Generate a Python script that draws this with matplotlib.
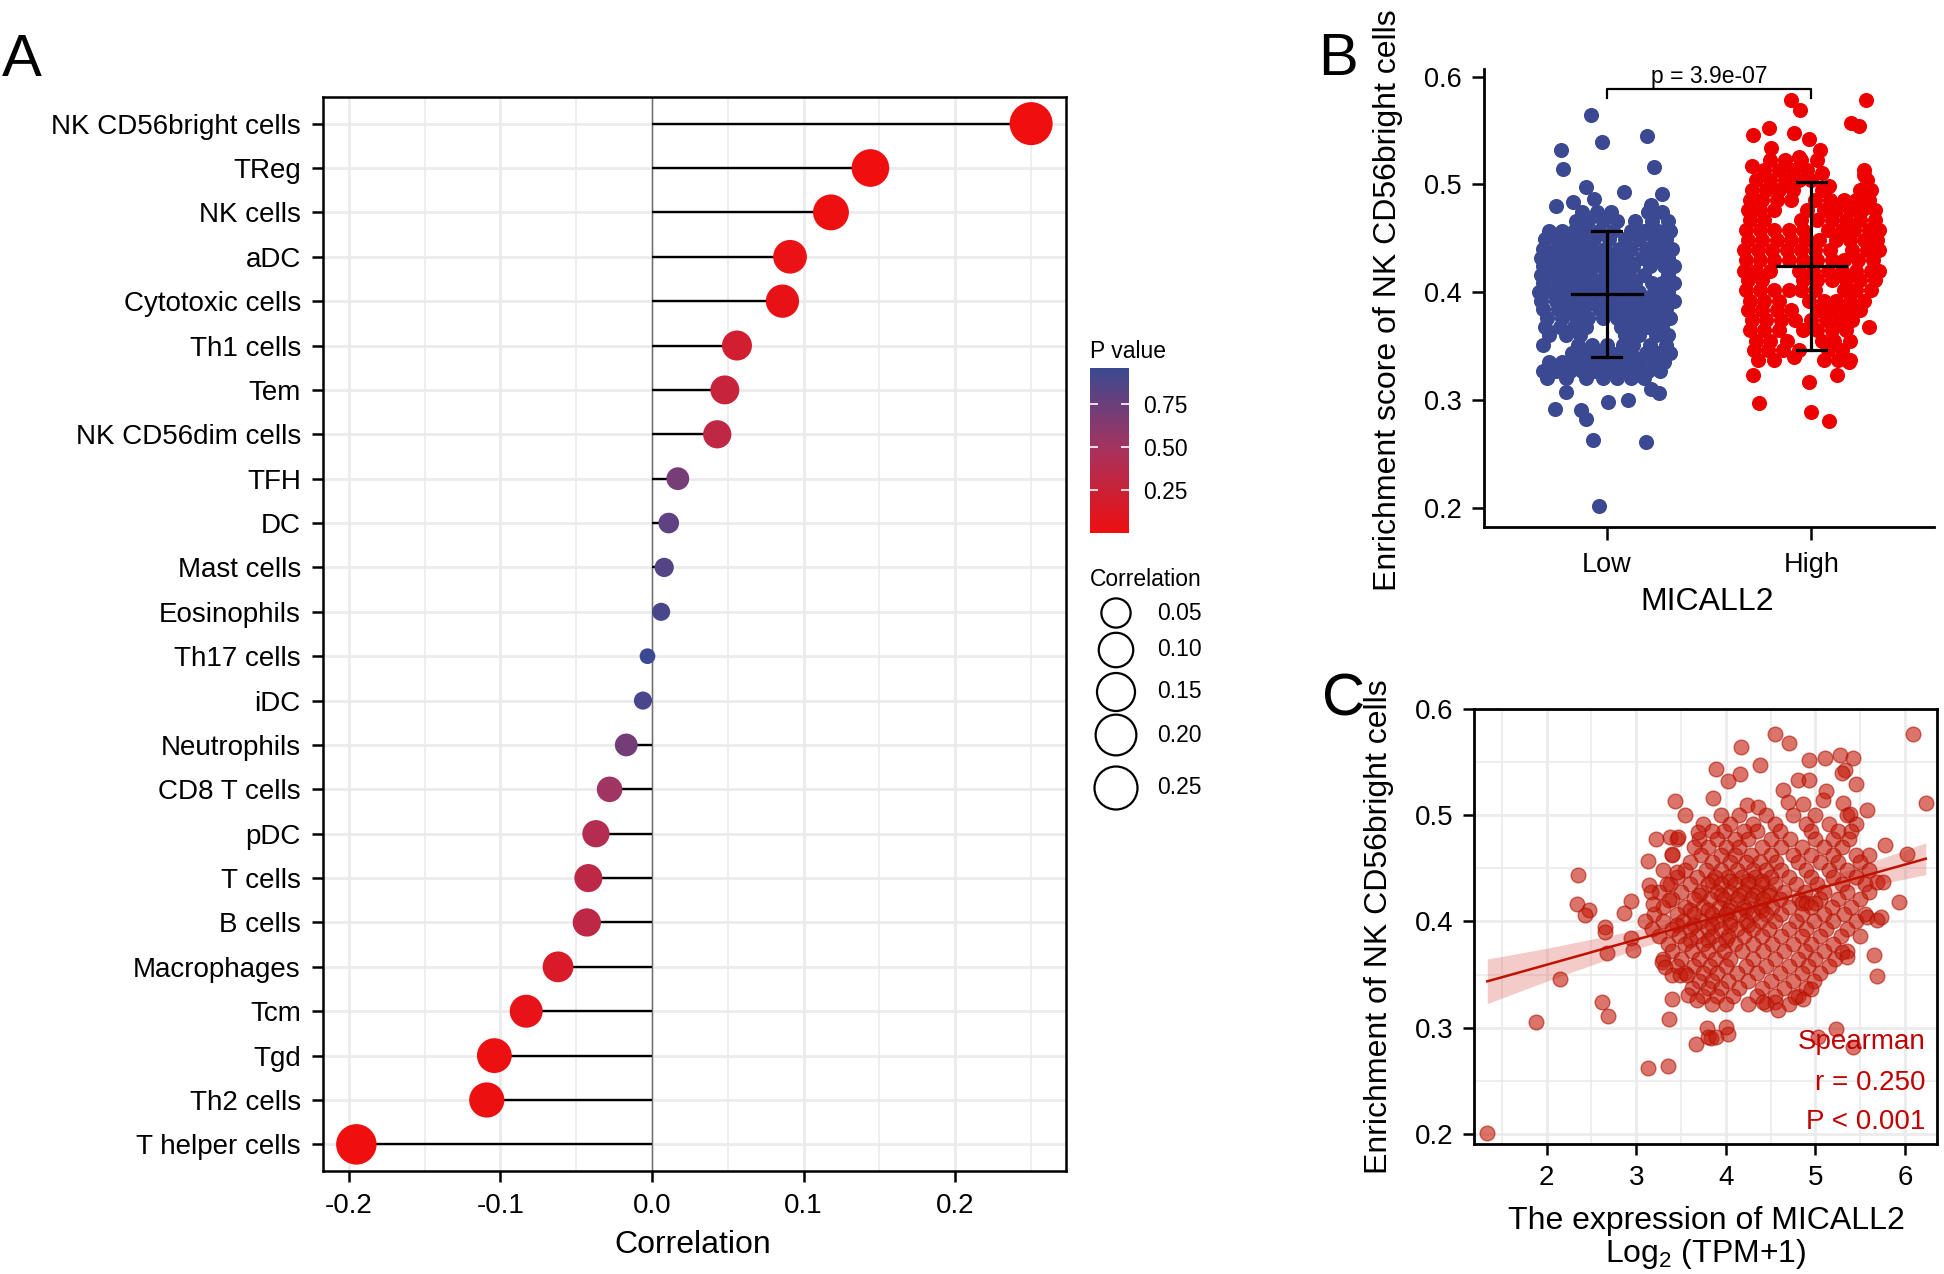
import numpy as np
import matplotlib
matplotlib.use('Agg')
import matplotlib.pyplot as plt
from matplotlib.colors import LinearSegmentedColormap, Normalize

plt.rcParams['font.family'] = ['Liberation Sans', 'DejaVu Sans']
plt.rcParams['mathtext.fontset'] = 'custom'
plt.rcParams['mathtext.rm'] = 'Liberation Sans'

W, H = 1944, 1274

# ---------------- panel A: immune cell correlations ----------------
cells = ['NK CD56bright cells', 'TReg', 'NK cells', 'aDC', 'Cytotoxic cells',
         'Th1 cells', 'Tem', 'NK CD56dim cells', 'TFH', 'DC', 'Mast cells',
         'Eosinophils', 'Th17 cells', 'iDC', 'Neutrophils', 'CD8 T cells', 'pDC',
         'T cells', 'B cells', 'Macrophages', 'Tcm', 'Tgd', 'Th2 cells',
         'T helper cells']
cor = [0.250, 0.144, 0.118, 0.091, 0.086, 0.056, 0.048, 0.043, 0.017, 0.011,
       0.008, 0.006, -0.003, -0.006, -0.017, -0.028, -0.037, -0.042, -0.043,
       -0.062, -0.083, -0.104, -0.109, -0.195]
pval = [0.000, 0.001, 0.006, 0.036, 0.048, 0.20, 0.27, 0.32, 0.70, 0.80,
        0.85, 0.89, 0.96, 0.89, 0.71, 0.52, 0.40, 0.34, 0.33, 0.15, 0.056,
        0.016, 0.012, 0.000]
size_levels = [0.05, 0.10, 0.15, 0.20, 0.25]
p_ticks = [0.25, 0.50, 0.75]

# ---------------- panel B: Low vs High MICALL2 ----------------
# enrichment score -> jitter offsets of the dots in that row
low_rows = {
    0.474: [-0.12, -0.05, 0.02, 0.20, 0.27],
    0.466: [-0.15, -0.09, -0.02, 0.05, 0.14, 0.22, 0.30],
    0.457: [-0.28, -0.22, -0.16, -0.10, -0.04, 0.03, 0.12, 0.18, 0.25, 0.31],
    0.449: [-0.30, -0.24, -0.18, -0.12, -0.06, 0.01, 0.09, 0.16, 0.23, 0.29],
    0.440: [-0.31, -0.25, -0.19, -0.13, -0.07, -0.01, 0.06, 0.12, 0.19, 0.26, 0.32],
    0.432: [-0.32, -0.26, -0.20, -0.14, -0.08, -0.02, 0.04, 0.10, 0.17, 0.24, 0.30],
    0.424: [-0.31, -0.25, -0.19, -0.12, -0.06, 0.00, 0.07, 0.13, 0.21, 0.28, 0.33],
    0.416: [-0.32, -0.26, -0.20, -0.14, -0.08, -0.01, 0.05, 0.11, 0.18, 0.30],
    0.408: [-0.31, -0.24, -0.18, -0.12, -0.05, 0.02, 0.08, 0.14, 0.22, 0.27, 0.33],
    0.400: [-0.33, -0.27, -0.21, -0.15, -0.09, -0.03, 0.03, 0.10, 0.16, 0.23, 0.30],
    0.392: [-0.32, -0.25, -0.19, -0.13, -0.07, 0.00, 0.06, 0.12, 0.19, 0.26, 0.33],
    0.384: [-0.31, -0.24, -0.17, -0.11, -0.04, 0.03, 0.09, 0.15, 0.22, 0.29],
    0.376: [-0.29, -0.22, -0.15, -0.09, -0.02, 0.05, 0.11, 0.18, 0.25, 0.31],
    0.368: [-0.30, -0.23, -0.16, -0.10, 0.07, 0.14, 0.20, 0.27],
    0.360: [-0.28, -0.20, -0.13, 0.09, 0.16, 0.24, 0.30],
    0.351: [-0.31, -0.14, -0.07, 0.00, 0.08, 0.13, 0.21, 0.29],
    0.343: [-0.17, -0.11, -0.05, 0.02, 0.06, 0.12, 0.19, 0.25, 0.31],
    0.335: [-0.28, -0.22, -0.15, -0.08, -0.03, 0.04, 0.11, 0.16, 0.23, 0.28],
    0.327: [-0.31, -0.25, -0.18, -0.12, -0.06, 0.01, 0.07, 0.14, 0.20, 0.26],
    0.320: [-0.29, -0.20, -0.10, -0.02, 0.05, 0.12, 0.18],
}
low_extra = [(-0.079, 0.5646), (-0.023, 0.5388), (0.195, 0.545), (-0.222, 0.5314),
             (-0.214, 0.5143), (0.229, 0.5165), (-0.10, 0.4973), (0.083, 0.4933),
             (-0.247, 0.480), (-0.165, 0.484), (0.272, 0.491), (0.216, 0.481),
             (-0.06, 0.486), (-0.198, 0.3073), (-0.255, 0.2918), (-0.125, 0.2903),
             (-0.10, 0.2825), (0.005, 0.298), (0.102, 0.2996), (0.216, 0.3104),
             (0.256, 0.306), (-0.068, 0.2624), (0.191, 0.261), (-0.036, 0.2019)]
high_rows = {
    0.523: [-0.20, -0.13, -0.05, 0.03],
    0.513: [-0.23, -0.16, -0.09, -0.02, 0.26],
    0.504: [-0.27, -0.20, -0.13, -0.06, 0.00, 0.27],
    0.495: [-0.29, -0.22, -0.16, -0.09, 0.05, 0.24, 0.29],
    0.485: [-0.30, -0.24, -0.17, -0.10, 0.02, 0.09, 0.16, 0.22, 0.28],
    0.476: [-0.31, -0.25, -0.18, -0.02, 0.06, 0.12, 0.19, 0.25, 0.31],
    0.467: [-0.30, -0.23, -0.05, 0.03, 0.10, 0.17, 0.24, 0.31],
    0.458: [-0.32, -0.25, -0.18, -0.11, -0.04, 0.08, 0.15, 0.21, 0.28, 0.33],
    0.448: [-0.31, -0.24, -0.17, -0.10, -0.03, 0.04, 0.12, 0.19, 0.26, 0.32],
    0.439: [-0.33, -0.26, -0.19, -0.12, -0.05, 0.02, 0.09, 0.20, 0.27, 0.33],
    0.430: [-0.32, -0.25, -0.18, -0.11, -0.04, 0.03, 0.10, 0.16, 0.23, 0.30],
    0.420: [-0.33, -0.27, -0.20, -0.06, 0.01, 0.08, 0.15, 0.22, 0.29, 0.33],
    0.411: [-0.31, -0.24, -0.04, 0.03, 0.10, 0.17, 0.24, 0.31],
    0.402: [-0.32, -0.25, -0.18, -0.11, -0.05, 0.02, 0.16, 0.22, 0.29],
    0.392: [-0.30, -0.23, -0.16, -0.01, 0.06, 0.12, 0.19, 0.26],
    0.383: [-0.31, -0.24, -0.17, -0.10, 0.04, 0.10, 0.17, 0.24],
    0.374: [-0.29, -0.22, -0.15, -0.08, 0.00, 0.07, 0.13, 0.20],
    0.365: [-0.30, -0.23, -0.16, -0.04, 0.03, 0.10, 0.17],
    0.355: [-0.27, -0.20, -0.12, 0.05, 0.11, 0.19],
    0.346: [-0.28, -0.21, -0.14, -0.06, 0.08, 0.15],
    0.337: [-0.26, -0.18, 0.06, 0.13, 0.19],
}
high_extra = [(-0.10, 0.578), (-0.055, 0.5686), (0.269, 0.5785), (0.195, 0.5568),
              (0.232, 0.5543), (-0.287, 0.546), (-0.206, 0.552), (-0.084, 0.5475),
              (-0.011, 0.542), (0.045, 0.5314), (-0.198, 0.5336), (-0.06, 0.5252),
              (-0.292, 0.5171), (0.054, 0.5103), (0.086, 0.4985), (0.256, 0.5088),
              (0.281, 0.3677), (-0.011, 0.3166), (-0.255, 0.2971), (-0.003, 0.2887),
              (0.086, 0.2803), (-0.287, 0.3228), (0.127, 0.3228), (0.183, 0.3352),
              (-0.084, 0.340)]
groups = ['Low', 'High']
group_mean = [0.398, 0.4246]
group_sd = [0.0585, 0.078]
p_label = 'p = 3.9e-07'

# ---------------- panel C: expression vs enrichment ----------------
# enrichment value -> expression values of the dots in that row
c_rows = {
    0.500: [3.55, 3.95, 4.15, 4.45, 4.75, 5.0, 5.35],
    0.492: [3.75, 4.05, 4.3, 4.55, 4.9, 5.15, 5.45],
    0.485: [3.85, 3.98, 4.2, 4.35, 4.6, 4.95, 5.25, 5.4],
    0.478: [3.45, 3.7, 3.9, 4.1, 4.25, 4.5, 4.72, 5.0, 5.2, 5.38],
    0.470: [3.65, 3.8, 4.0, 4.15, 4.4, 4.62, 4.85, 5.1, 5.3],
    0.463: [3.4, 3.72, 3.95, 4.1, 4.28, 4.5, 4.75, 4.95, 5.2, 5.45, 5.6],
    0.456: [3.6, 3.85, 4.05, 4.22, 4.38, 4.56, 4.8, 5.05, 5.25, 5.5],
    0.449: [3.3, 3.55, 3.78, 3.95, 4.12, 4.3, 4.45, 4.62, 4.9, 5.15, 5.35, 5.6],
    0.442: [3.45, 3.68, 3.88, 4.02, 4.18, 4.33, 4.5, 4.7, 4.95, 5.2, 5.45],
    0.438: [3.85, 4.05, 4.25, 4.4],
    0.435: [3.38, 3.6, 3.8, 3.95, 4.1, 4.25, 4.4, 4.55, 4.78, 5.02, 5.3, 5.55],
    0.428: [3.25, 3.5, 3.72, 3.9, 4.05, 4.2, 4.35, 4.48, 4.65, 4.88, 5.1, 5.35, 5.6],
    0.425: [3.7, 3.95, 4.15, 4.3, 4.48],
    0.421: [3.4, 3.65, 3.82, 3.98, 4.12, 4.28, 4.42, 4.6, 4.82, 5.05, 5.25, 5.5],
    0.417: [4.85, 4.9, 5.0],
    0.414: [3.3, 3.55, 3.75, 3.92, 4.05, 4.2, 4.38, 4.52, 4.7, 4.95, 5.18, 5.4],
    0.411: [3.6, 3.8, 4.02, 4.22, 4.4],
    0.407: [3.2, 3.45, 3.65, 3.85, 4.0, 4.15, 4.3, 4.45, 4.62, 4.85, 5.1, 5.32, 5.55],
    0.400: [3.1, 3.3, 3.52, 3.72, 3.9, 4.05, 4.22, 4.38, 4.55, 4.78, 4.98, 5.2, 5.45],
    0.397: [3.45, 3.65, 3.85, 4.05, 4.25],
    0.393: [3.18, 3.4, 3.6, 3.8, 3.95, 4.12, 4.3, 4.48, 4.7, 4.9, 5.12, 5.35],
    0.386: [3.25, 3.48, 3.68, 3.85, 4.02, 4.2, 4.4, 4.62, 4.85, 5.05, 5.28, 5.5],
    0.383: [3.6, 3.8, 4.0],
    0.379: [3.35, 3.55, 3.75, 3.92, 4.1, 4.3, 4.52, 4.75, 4.95, 5.2],
    0.372: [3.4, 3.62, 3.8, 3.98, 4.18, 4.42, 4.65, 4.88, 5.1, 5.35],
    0.365: [3.3, 3.5, 3.7, 3.88, 4.05, 4.3, 4.55, 4.8, 5.0, 5.22],
    0.358: [3.45, 3.65, 3.82, 4.0, 4.22, 4.45, 4.7, 4.92, 5.15],
    0.351: [3.55, 3.75, 3.9, 4.12, 4.35, 4.6, 4.85, 5.05],
    0.344: [3.7, 3.85, 4.02, 4.25, 4.5, 4.75, 4.98],
    0.337: [3.62, 3.8, 3.95, 4.15, 4.4, 4.65, 4.9],
    0.330: [3.75, 3.9, 4.08, 4.35, 4.55, 4.8],
    0.322: [3.85, 4.0, 4.25, 4.45, 4.7],
}
c_extra = [(1.338, 0.2006), (3.432, 0.5135), (3.220, 0.478), (3.376, 0.480),
           (3.469, 0.480), (3.403, 0.4633), (3.135, 0.4567), (3.693, 0.4843),
           (2.353, 0.4435), (3.451, 0.4466), (3.142, 0.434), (3.164, 0.4278),
           (2.342, 0.4161), (2.476, 0.4111), (2.428, 0.4064), (2.941, 0.419),
           (2.867, 0.408), (3.183, 0.4161), (3.339, 0.4356), (3.369, 0.42),
           (2.651, 0.3948), (2.651, 0.390), (2.941, 0.3847), (2.96, 0.3734),
           (2.67, 0.3703), (2.149, 0.3461), (1.877, 0.3052), (2.614, 0.3241),
           (2.681, 0.3109), (3.283, 0.3618), (3.321, 0.3571), (3.395, 0.3492),
           (3.488, 0.3492), (3.562, 0.3492), (3.403, 0.3266), (3.369, 0.3084),
           (3.667, 0.2842), (3.135, 0.2619), (3.358, 0.2635), (3.58, 0.3304),
           (3.674, 0.3257), (3.79, 0.300), (3.83, 0.290),
           (4.554, 0.577), (4.707, 0.5682), (4.167, 0.5644), (6.091, 0.577),
           (6.232, 0.5117), (3.885, 0.544), (4.156, 0.5393), (4.026, 0.5324),
           (4.379, 0.5472), (3.859, 0.5164), (4.926, 0.5525), (5.105, 0.5544),
           (5.272, 0.5566), (5.421, 0.5544), (5.328, 0.5431), (5.302, 0.540),
           (4.64, 0.5242), (4.807, 0.533), (4.93, 0.533), (5.123, 0.523),
           (5.451, 0.5299), (4.696, 0.5126), (4.863, 0.511), (5.086, 0.5142),
           (4.231, 0.5095), (4.361, 0.5079), (5.31, 0.5117), (5.384, 0.501),
           (5.57, 0.5054), (5.775, 0.4718), (6.024, 0.4633), (5.682, 0.4372),
           (5.756, 0.4372), (5.935, 0.4184), (5.57, 0.4042), (5.682, 0.4011),
           (5.737, 0.4042), (5.652, 0.3681), (5.689, 0.3483), (5.291, 0.3712),
           (5.347, 0.3665), (4.417, 0.3241), (4.547, 0.3241), (4.584, 0.3162),
           (4.77, 0.3288), (4.863, 0.3272), (4.956, 0.3367), (5.03, 0.2911),
           (5.228, 0.299), (5.421, 0.2817), (3.803, 0.2911), (3.896, 0.2911),
           (4.026, 0.2943), (4.007, 0.3005)]
fit_x = [1.338, 2.0, 3.0, 4.0, 5.0, 6.232]
fit_y = [0.3436, 0.3592, 0.3829, 0.4065, 0.4301, 0.4592]
band_lo = [0.3226, 0.3437, 0.3739, 0.4015, 0.4226, 0.4442]
band_hi = [0.3646, 0.3747, 0.3919, 0.4115, 0.4376, 0.4742]
stat_lines = ['Spearman', 'r = 0.250', 'P < 0.001']


def rect(l, t, r, b):
    # pixel box -> figure fraction
    return [l / W, 1 - b / H, (r - l) / W, (b - t) / H]


def fpos(x, y):
    return x / W, 1 - y / H


def dot_size(r):
    return 0.5184 * (50 + 3600 * np.sqrt(np.abs(np.asarray(r))))


grid_c = '#EBEBEB'
cmap = LinearSegmentedColormap.from_list('pv', ['#EF0F0F', '#A8335E', '#3B4992'])
norm = Normalize(0, 0.96)

fig = plt.figure(figsize=(W / 100, H / 100), dpi=100)

# ---- A ----
ax = fig.add_axes(rect(323, 97, 1066, 1171))
ypos = np.arange(len(cells))[::-1]
ax.axvline(0, color='#6E6E6E', lw=1.0, zorder=1)
ax.hlines(ypos, 0, cor, color='black', lw=1.7, zorder=2)
ax.scatter(cor, ypos, s=dot_size(cor), c=pval, cmap=cmap, norm=norm,
           linewidths=0, zorder=3)
ax.set_xlim(-0.217, 0.273)
ax.set_ylim(-0.6, 23.6)
ax.set_xticks([-0.2, -0.1, 0.0, 0.1, 0.2])
ax.set_xticklabels(['-0.2', '-0.1', '0.0', '0.1', '0.2'])
ax.set_xticks([-0.15, -0.05, 0.05, 0.15, 0.25], minor=True)
ax.set_yticks(ypos)
ax.set_yticklabels(cells)
ax.grid(which='major', color=grid_c, lw=2.0)
ax.grid(which='minor', axis='x', color=grid_c, lw=1.2)
ax.set_axisbelow(True)
ax.tick_params(which='major', length=8, width=1.8, pad=8, labelsize=20)
ax.tick_params(which='minor', length=0)
for sp in ax.spines.values():
    sp.set_linewidth(1.8)
fig.text(*fpos(693, 1245), 'Correlation', fontsize=23, ha='center', va='center')

# P value colour legend
cax = fig.add_axes(rect(1090, 368, 1129, 533))
cax.imshow(np.linspace(0, 0.96, 256)[:, None], aspect='auto', cmap=cmap, norm=norm,
           origin='lower', extent=[0, 1, 0, 0.96])
cax.set_xlim(0, 1)
cax.set_ylim(0, 0.96)
cax.set_xticks([])
cax.yaxis.tick_right()
cax.set_yticks(p_ticks)
cax.set_yticklabels(['%.2f' % v for v in p_ticks])
cax.tick_params(axis='y', length=0, pad=10, labelsize=16.5)
trans = cax.get_yaxis_transform()
cax.hlines(p_ticks, 0, 0.2, color='white', lw=1.2, transform=trans)
cax.hlines(p_ticks, 0.8, 1, color='white', lw=1.2, transform=trans)
for sp in cax.spines.values():
    sp.set_visible(False)
fig.text(*fpos(1090, 351), 'P value', fontsize=16.5, ha='left', va='center')
fig.text(*fpos(1090, 580), 'Correlation', fontsize=16.5, ha='left', va='center')

# ---- B ----
axb = fig.add_axes(rect(1484, 69, 1934, 527))
bcolors = ['#3B4992', '#EE0000']
for gi, (rows, extra) in enumerate([(low_rows, low_extra), (high_rows, high_extra)]):
    xs, ys = [], []
    for score, jit in rows.items():
        xs += [gi + 1 + j for j in jit]
        ys += [score] * len(jit)
    xs += [gi + 1 + e[0] for e in extra]
    ys += [e[1] for e in extra]
    axb.scatter(xs, ys, s=118, color=bcolors[gi], linewidths=0, zorder=2)
for gi in range(2):
    xc, m, sd = gi + 1, group_mean[gi], group_sd[gi]
    axb.plot([xc, xc], [m - sd, m + sd], color='black', lw=2.3, zorder=3)
    axb.plot([xc - 0.17, xc + 0.17], [m, m], color='black', lw=2.3, zorder=3)
    for yv in (m - sd, m + sd):
        axb.plot([xc - 0.07, xc + 0.07], [yv, yv], color='black', lw=2.3, zorder=3)
axb.plot([1, 1, 2, 2], [0.580, 0.5885, 0.5885, 0.580], color='black', lw=1.6,
         clip_on=False)
axb.text(1.5, 0.6005, p_label, fontsize=16.5, ha='center', va='center')
axb.set_xlim(0.4, 2.6)
axb.set_ylim(0.182, 0.607)
axb.set_xticks([1, 2])
axb.set_xticklabels(groups)
axb.set_yticks([0.2, 0.3, 0.4, 0.5, 0.6])
axb.set_yticklabels(['0.2', '0.3', '0.4', '0.5', '0.6'])
axb.tick_params(length=9, width=1.8, labelsize=19.5)
axb.tick_params(axis='x', pad=9)
axb.tick_params(axis='y', pad=7)
axb.spines['top'].set_visible(False)
axb.spines['right'].set_visible(False)
axb.spines['left'].set_linewidth(2.0)
axb.spines['bottom'].set_linewidth(2.0)
fig.text(*fpos(1707, 602), 'MICALL2', fontsize=23, ha='center', va='center')
fig.text(*fpos(1388, 300), 'Enrichment score of NK CD56bright cells', fontsize=23,
         rotation=90, ha='center', va='center')

# ---- C ----
axc = fig.add_axes(rect(1474, 709.3, 1937.3, 1144.3))
cx, cy = [], []
for val, exprs in c_rows.items():
    cx += exprs
    cy += [val] * len(exprs)
cx += [e[0] for e in c_extra]
cy += [e[1] for e in c_extra]
axc.fill_between(fit_x, band_lo, band_hi, color='#D9534A', alpha=0.3, linewidth=0,
                 zorder=2)
axc.scatter(cx, cy, s=112, facecolor='#C41A0A', edgecolor='#B01000', linewidths=1.0,
            alpha=0.6, zorder=3)
axc.plot(fit_x, fit_y, color='#BF1000', lw=1.8, zorder=4)
axc.set_xlim(1.19, 6.36)
axc.set_ylim(0.19, 0.60)
axc.set_xticks([2, 3, 4, 5, 6])
axc.set_xticks([1.5, 2.5, 3.5, 4.5, 5.5], minor=True)
axc.set_yticks([0.2, 0.3, 0.4, 0.5, 0.6])
axc.set_yticklabels(['0.2', '0.3', '0.4', '0.5', '0.6'])
axc.set_yticks([0.25, 0.35, 0.45, 0.55], minor=True)
axc.grid(which='major', color=grid_c, lw=2.0)
axc.grid(which='minor', color=grid_c, lw=1.2)
axc.set_axisbelow(True)
axc.tick_params(which='major', length=8, width=1.8, pad=7, labelsize=20)
axc.tick_params(which='minor', length=0)
for sp in axc.spines.values():
    sp.set_linewidth(2.0)
for txt, yy in zip(stat_lines, [0.236, 0.1416, 0.0517]):
    axc.text(0.9735, yy, txt, transform=axc.transAxes, color='#C00000', fontsize=20,
             ha='right', va='center', zorder=5)
fig.text(*fpos(1378.5, 927), 'Enrichment of NK CD56bright cells', fontsize=23,
         rotation=90, ha='center', va='center')
fig.text(*fpos(1706, 1221), 'The expression of MICALL2', fontsize=23,
         ha='center', va='center')
fig.text(*fpos(1706, 1254), r'$\mathregular{Log_2}$ (TPM+1)', fontsize=23,
         ha='center', va='center')

# size legend + panel letters on a transparent overlay
ov = fig.add_axes([0, 0, 1, 1])
ov.set_xlim(0, W)
ov.set_ylim(H, 0)
ov.axis('off')
leg_y = [613, 650, 692, 735, 788]
ov.scatter([1116] * len(size_levels), leg_y, s=dot_size(size_levels),
           facecolors='none', edgecolors='black', linewidths=1.6)
for lv, yy in zip(size_levels, leg_y):
    ov.text(1157, yy, '%.2f' % lv, fontsize=16.5, ha='left', va='center')

fig.text(*fpos(2, 75.5), 'A', fontsize=43, ha='left', va='baseline')
fig.text(*fpos(1318, 75), 'B', fontsize=43, ha='left', va='baseline')
fig.text(*fpos(1322, 716), 'C', fontsize=43, ha='left', va='baseline')

fig.savefig('out.png', dpi=100, facecolor='white')
